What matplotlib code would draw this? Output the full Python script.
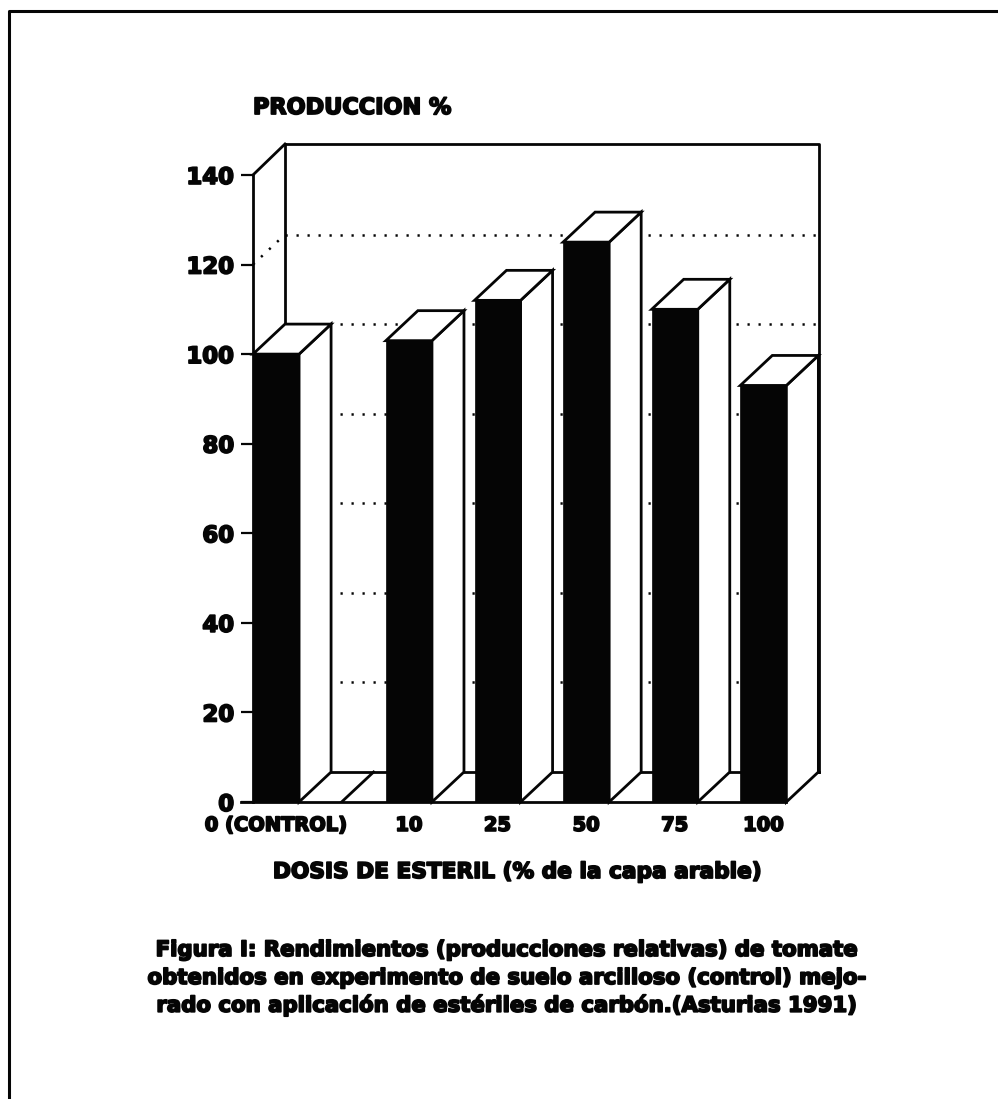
import matplotlib
matplotlib.use("Agg")
import matplotlib.pyplot as plt
import matplotlib.patheffects as pe
from matplotlib.lines import Line2D
from matplotlib.patches import Polygon

# data
doses = ["0 (CONTROL)", "10", "25", "50", "75", "100"]
positions = [0, 1.5, 2.5, 3.5, 4.5, 5.5]
produccion = [100, 103, 112, 125, 110, 93]
y_ticks = [0, 20, 40, 60, 80, 100, 120, 140]

W, H = 998, 1099
px_x = 88.6    # pixels per slot
px_y = 4.479   # pixels per %
depth_x = 32 / px_x
depth_y = 30 / px_y
bar_w = 0.52
INK = "#050505"

plt.rcParams["font.family"] = "DejaVu Sans"
plt.rcParams["font.weight"] = "bold"
heavy = [pe.withStroke(linewidth=1.3, foreground=INK)]

fig = plt.figure(figsize=(W / 100, H / 100), dpi=100, facecolor="white")
ax = fig.add_axes([253 / W, (H - 802) / H, 566 / W, 658 / H])
ax.set_xlim(0, 566 / px_x)
ax.set_ylim(0, 658 / px_y)
ax.patch.set_visible(False)
for s in ax.spines.values():
    s.set_visible(False)

xmax = ax.get_xlim()[1]
ytop = ax.get_ylim()[1]
lw_main = 2.0

# back wall and floor
ax.plot([depth_x, xmax, xmax], [ytop, ytop, depth_y], color=INK, lw=lw_main, clip_on=False, zorder=1)
ax.plot([depth_x, depth_x], [depth_y, ytop], color=INK, lw=lw_main, clip_on=False, zorder=1)
ax.plot([depth_x, xmax], [depth_y, depth_y], color=INK, lw=lw_main, clip_on=False, zorder=1)
ax.plot([0, depth_x], [140, ytop], color=INK, lw=lw_main, clip_on=False, zorder=1)
ax.plot([0, 0], [0, 140], color=INK, lw=lw_main, clip_on=False, zorder=1)

# dotted grid on the walls
for v in y_ticks[1:-1]:
    ax.plot([depth_x, xmax], [v + depth_y, v + depth_y], color=INK, lw=1.8,
            ls=(0, (0.9, 3.5)), clip_on=False, zorder=1)
ax.plot([0, depth_x], [120, 120 + depth_y], color=INK, lw=1.8, ls=(0, (0.9, 3.5)), clip_on=False, zorder=1)

# floor diagonal in the empty slot
ax.plot([1, 1 + depth_x], [0, depth_y], color=INK, lw=lw_main, zorder=1)

# bars, front face plus the top and side faces
for x, v in zip(positions, produccion):
    side = [(x + bar_w, 0), (x + bar_w + depth_x, depth_y), (x + bar_w + depth_x, v + depth_y), (x + bar_w, v)]
    top = [(x, v), (x + depth_x, v + depth_y), (x + bar_w + depth_x, v + depth_y), (x + bar_w, v)]
    ax.add_patch(Polygon(side, closed=True, facecolor="white", edgecolor=INK, lw=lw_main, zorder=3, clip_on=False))
    ax.add_patch(Polygon(top, closed=True, facecolor="white", edgecolor=INK, lw=lw_main, zorder=3, clip_on=False))
ax.bar(positions, produccion, width=bar_w, align="edge", color=INK, edgecolor=INK, lw=0.5, zorder=4)

# x axis line
ax.plot([-12 / px_x, positions[-1] + bar_w], [0, 0], color=INK, lw=lw_main, clip_on=False, zorder=5)

ax.set_yticks(y_ticks)
ax.set_yticklabels([str(v) for v in y_ticks], fontsize=16.4, fontweight="bold", color=INK, path_effects=heavy)
ax.set_xticks([p + bar_w / 2 for p in positions])
ax.set_xticklabels(doses, fontsize=14, fontweight="bold", color=INK, path_effects=heavy)
ax.tick_params(axis="y", length=8.6, width=1.6, pad=5, color=INK)
ax.tick_params(axis="x", length=0, pad=10)

fig.text(253 / W, 1 - 108 / H, "PRODUCCION %", fontsize=16.1, va="center", ha="left", color=INK, path_effects=heavy)
fig.text(517 / W, 1 - 872 / H, "DOSIS DE ESTERIL (% de la capa arable)", fontsize=15.6, va="center", ha="center",
         color=INK, path_effects=heavy)

caption = ["Figura I: Rendimientos (producciones relativas) de tomate",
           "obtenidos en experimento de suelo arcilloso (control) mejo-",
           "rado con aplicación de estériles de carbón.(Asturias 1991)"]
caption_y = [950, 978, 1005]
for line, y in zip(caption, caption_y):
    fig.text(506 / W, 1 - y / H, line, fontsize=15.3, va="center", ha="center", color=INK, path_effects=heavy)

# outer frame of the scanned page
fig.add_artist(Line2D([9 / W, 9 / W, 1], [0, 1 - 11 / H, 1 - 11 / H], color=INK, lw=2.2))

fig.savefig("out.png", dpi=100)
